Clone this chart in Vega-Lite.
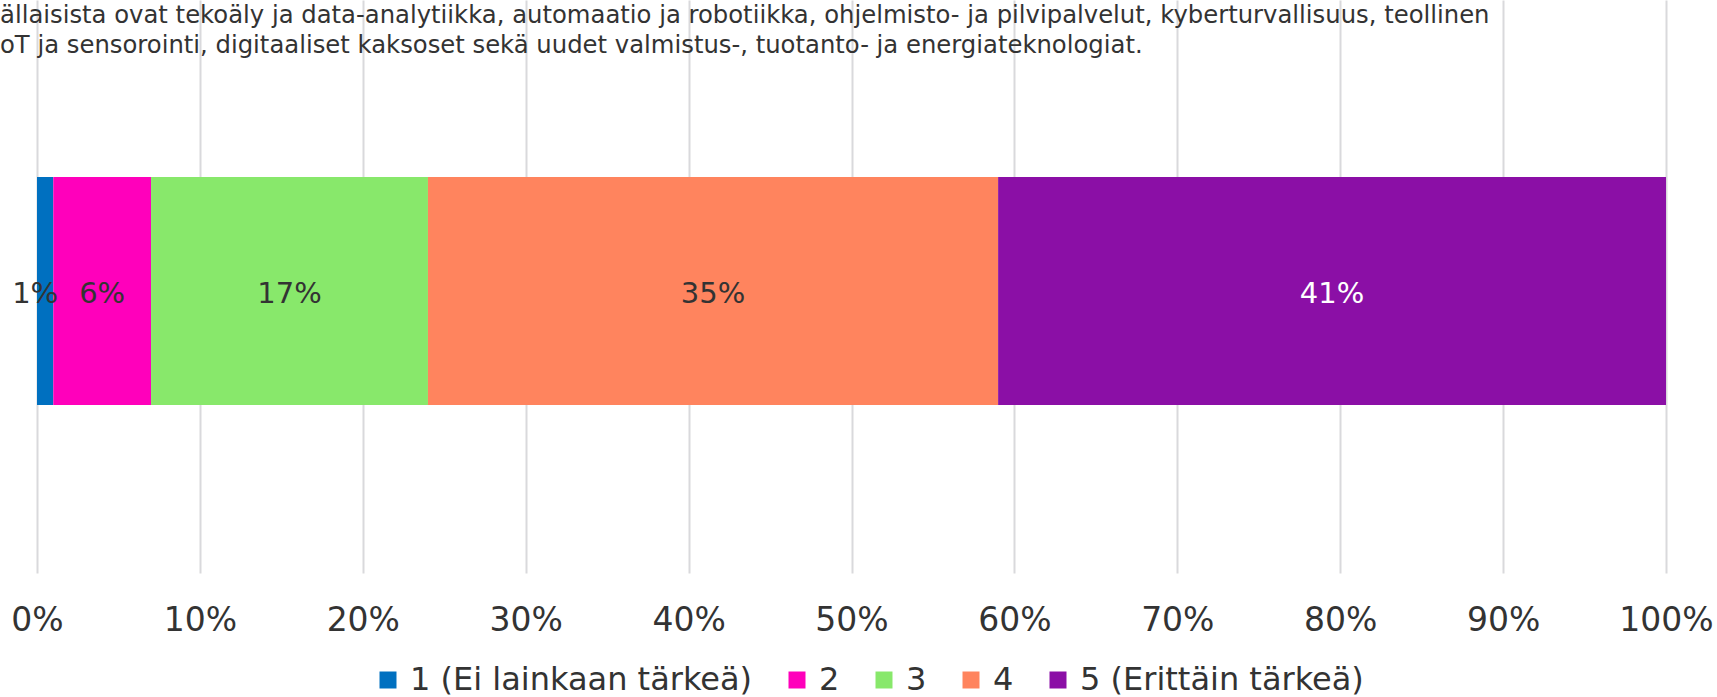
{
  "$schema": "https://vega.github.io/schema/vega-lite/v6.json",
  "width": 1629,
  "height": 573,
  "autosize": {"type": "none"},
  "padding": {"left": 37, "top": 0, "right": 51, "bottom": 124},
  "background": "white",
  "config": {"view": {"stroke": null}},
  "title": {
    "text": [
      "ällaisista ovat tekoäly ja data-analytiikka, automaatio ja robotiikka, ohjelmisto- ja pilvipalvelut, kyberturvallisuus, teollinen",
      "oT ja sensorointi, digitaaliset kaksoset sekä uudet valmistus-, tuotanto- ja energiateknologiat."
    ],
    "anchor": "start",
    "frame": "group",
    "font": "DejaVu Sans",
    "fontSize": 24.3,
    "fontWeight": "normal",
    "color": "#333333",
    "lineHeight": 30,
    "dx": -37,
    "dy": 58,
    "offset": 0
  },
  "data": {
    "values": [
      {"q": "q", "k": 1, "label": "1 (Ei lainkaan tärkeä)", "pct": 1},
      {"q": "q", "k": 2, "label": "2", "pct": 6},
      {"q": "q", "k": 3, "label": "3", "pct": 17},
      {"q": "q", "k": 4, "label": "4", "pct": 35},
      {"q": "q", "k": 5, "label": "5 (Erittäin tärkeä)", "pct": 41}
    ]
  },
  "transform": [
    {"stack": "pct", "groupby": ["q"], "sort": [{"field": "k"}], "as": ["x0", "x1"]},
    {"calculate": "(datum.x0 + datum.x1) / 2", "as": "xm"},
    {"calculate": "datum.pct + '%'", "as": "txt"}
  ],
  "encoding": {
    "y": {
      "field": "q",
      "type": "nominal",
      "axis": null,
      "scale": {"paddingInner": 0.602, "paddingOuter": 0.301, "align": 0.513}
    }
  },
  "layer": [
    {
      "mark": {"type": "bar"},
      "encoding": {
        "x": {
          "field": "x0",
          "type": "quantitative",
          "scale": {"domain": [0, 100], "nice": false},
          "axis": {
            "title": null,
            "values": [0, 10, 20, 30, 40, 50, 60, 70, 80, 90, 100],
            "labelExpr": "datum.value + '%'",
            "domain": false,
            "ticks": false,
            "grid": true,
            "gridColor": "#d9d9dc",
            "gridWidth": 2,
            "labelFont": "DejaVu Sans",
            "labelFontSize": 33,
            "labelColor": "#333333",
            "labelPadding": 31,
            "labelFlush": false,
            "labelOverlap": false
          }
        },
        "x2": {"field": "x1"},
        "color": {
          "field": "label",
          "type": "nominal",
          "sort": null,
          "scale": {
            "domain": ["1 (Ei lainkaan tärkeä)", "2", "3", "4", "5 (Erittäin tärkeä)"],
            "range": ["#0070c0", "#ff00bb", "#88e86b", "#ff845e", "#8b0fa6"]
          },
          "legend": {
            "title": null,
            "orient": "none",
            "legendX": 335,
            "legendY": 664,
            "direction": "horizontal",
            "padding": 0,
            "symbolType": "square",
            "symbolSize": 289,
            "symbolStrokeWidth": 0,
            "symbolOpacity": 1,
            "labelFont": "DejaVu Sans",
            "labelFontSize": 32,
            "labelColor": "#333333",
            "labelOffset": 6,
            "labelLimit": 600,
            "columnPadding": 28
          }
        }
      }
    },
    {
      "transform": [{"filter": "datum.k > 1 && datum.k < 5"}],
      "mark": {"type": "text", "font": "DejaVu Sans", "fontSize": 29, "color": "#333333", "baseline": "middle", "align": "center", "dy": 3},
      "encoding": {
        "x": {"field": "xm", "type": "quantitative"},
        "text": {"field": "txt"}
      }
    },
    {
      "transform": [{"filter": "datum.k == 1"}],
      "mark": {"type": "text", "font": "DejaVu Sans", "fontSize": 29, "color": "#333333", "baseline": "middle", "align": "center", "dx": -10, "dy": 3},
      "encoding": {
        "x": {"field": "xm", "type": "quantitative"},
        "text": {"field": "txt"}
      }
    },
    {
      "transform": [{"filter": "datum.k == 5"}],
      "mark": {"type": "text", "font": "DejaVu Sans", "fontSize": 29, "color": "#ffffff", "baseline": "middle", "align": "center", "dy": 3},
      "encoding": {
        "x": {"field": "xm", "type": "quantitative"},
        "text": {"field": "txt"}
      }
    }
  ]
}
